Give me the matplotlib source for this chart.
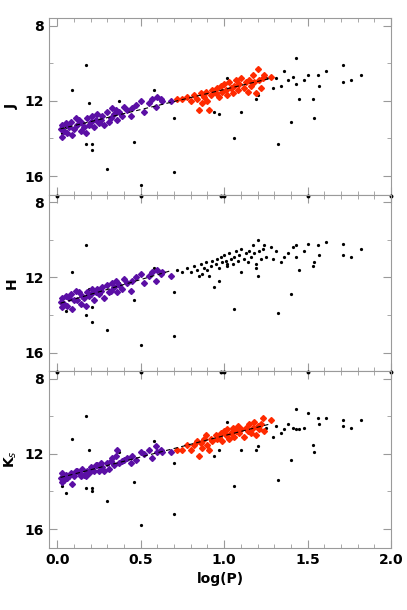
import numpy as np
import matplotlib
matplotlib.use("Agg")
import matplotlib.pyplot as plt

PURPLE = '#5b0fa5'
RED = '#ff2a00'
GREY = '#9a9a9a'

# short-period group (purple): logP, J, H, Ks
p_logp = [0.02, 0.03, 0.03, 0.04, 0.05, 0.06, 0.07, 0.08, 0.09, 0.10, 0.11, 0.12, 0.13, 0.14,
          0.15, 0.16, 0.17, 0.18, 0.19, 0.20, 0.21, 0.22, 0.23, 0.24, 0.25, 0.26, 0.27, 0.28,
          0.30, 0.31, 0.32, 0.33, 0.34, 0.35, 0.36, 0.37, 0.39, 0.40, 0.42, 0.44, 0.45, 0.47,
          0.50, 0.52, 0.55, 0.57, 0.59, 0.60, 0.62, 0.63, 0.68]
p_j = [13.5, 13.9, 13.3, 13.6, 13.2, 13.7, 13.4, 13.1, 13.8, 13.5, 12.9, 13.3, 13.0, 13.6,
       13.2, 13.4, 13.7, 12.9, 13.3, 13.1, 12.8, 13.4, 13.0, 12.7, 13.2, 13.0, 12.8, 13.3,
       12.6, 13.1, 12.9, 12.4, 12.7, 12.5, 13.0, 12.6, 12.8, 12.3, 12.5, 12.8, 12.4, 12.2,
       12.0, 12.6, 12.1, 11.9, 12.3, 11.8, 11.9, 12.0, 12.0]
p_h = [13.3, 13.6, 13.1, 13.4, 13.0, 13.5, 13.1, 12.9, 13.7, 13.2, 12.7, 13.2, 12.8, 13.4,
       13.0, 13.1, 13.5, 12.8, 13.0, 12.9, 12.6, 13.2, 12.8, 12.6, 12.9, 12.7, 12.5, 13.1,
       12.4, 12.8, 12.7, 12.3, 12.5, 12.2, 12.8, 12.4, 12.6, 12.1, 12.3, 12.7, 12.2, 12.0,
       11.8, 12.3, 11.9, 11.7, 12.2, 11.6, 11.8, 11.7, 11.9]
p_k = [13.3, 13.5, 13.0, 13.4, 13.1, 13.3, 13.2, 13.0, 13.6, 13.2, 12.9, 12.9, 13.0, 13.2,
       12.8, 13.1, 13.2, 12.9, 13.0, 12.7, 12.8, 12.9, 12.6, 12.6, 12.9, 12.5, 12.7, 12.9,
       12.5, 12.8, 12.4, 12.2, 12.6, 12.1, 11.8, 12.5, 12.4, 12.3, 12.2, 12.5, 12.1, 12.3,
       11.9, 12.0, 11.8, 12.2, 11.6, 11.9, 11.8, 11.9, 11.9]

# long-period group (red in J and Ks, black in H)
r_logp = [0.72, 0.75, 0.78, 0.80, 0.82, 0.84, 0.85, 0.86, 0.87, 0.88, 0.89, 0.90, 0.91, 0.92,
          0.93, 0.95, 0.96, 0.97, 0.98, 0.99, 1.00, 1.01, 1.02, 1.03, 1.04, 1.05, 1.06, 1.07,
          1.08, 1.09, 1.10, 1.12, 1.13, 1.14, 1.15, 1.16, 1.17, 1.18, 1.19, 1.20, 1.21, 1.22,
          1.23, 1.24, 1.28]
r_j = [11.9, 11.9, 11.8, 12.0, 11.7, 11.9, 12.5, 11.6, 12.1, 11.8, 11.5, 12.0, 12.5, 11.7,
       11.4, 11.6, 11.3, 11.8, 11.2, 11.5, 11.1, 11.4, 11.7, 11.0, 11.3, 11.6, 11.2, 10.9,
       11.4, 11.1, 10.8, 11.3, 11.0, 11.5, 10.9, 11.2, 10.6, 11.0, 11.6, 10.3, 10.9, 11.3,
       10.8, 10.6, 10.7]
r_h = [11.6, 11.7, 11.5, 11.7, 11.4, 11.6, 11.9, 11.3, 11.8, 11.5, 11.2, 11.6, 11.9, 11.4,
       11.1, 11.3, 11.0, 11.5, 10.9, 11.2, 10.8, 11.1, 11.4, 10.7, 11.0, 11.3, 10.9, 10.6,
       11.1, 10.8, 10.5, 11.0, 10.7, 11.2, 10.6, 10.9, 10.3, 10.7, 11.3, 10.0, 10.6, 11.0,
       10.5, 10.3, 10.4]
r_k = [11.8, 11.8, 11.5, 11.8, 11.5, 11.3, 12.1, 11.4, 11.7, 11.2, 11.0, 11.5, 11.8, 11.2,
       11.3, 11.0, 11.2, 11.1, 10.9, 11.3, 10.8, 11.0, 10.7, 11.2, 10.9, 10.6, 11.1, 10.8,
       10.5, 10.9, 10.7, 11.1, 10.6, 10.8, 10.4, 10.9, 10.6, 10.3, 11.0, 10.5, 10.7, 10.4,
       10.1, 10.8, 10.2]

# other stars (small black dots in all panels)
o_logp = [0.03, 0.05, 0.09, 0.17, 0.17, 0.19, 0.21, 0.21, 0.30, 0.37, 0.46, 0.50, 0.58, 0.70,
          0.70, 0.94, 0.97, 1.02, 1.06, 1.10, 1.19, 1.20, 1.25, 1.29, 1.31, 1.32, 1.34, 1.36,
          1.38, 1.40, 1.41, 1.43, 1.43, 1.45, 1.48, 1.50, 1.53, 1.54, 1.56, 1.57, 1.61, 1.71,
          1.71, 1.76, 1.82]
o_j = [13.7, 13.4, 11.4, 10.1, 14.3, 12.1, 14.6, 14.3, 15.6, 12.0, 14.2, 16.5, 11.4, 15.8,
       12.9, 12.6, 12.7, 10.8, 14.0, 12.6, 11.9, 11.7, 10.8, 11.3, 10.8, 14.3, 11.2, 10.4,
       10.9, 13.1, 10.7, 9.7, 11.1, 11.9, 10.9, 10.6, 11.9, 12.9, 10.6, 11.2, 10.4, 10.1,
       11.0, 10.9, 10.6]
o_h = [13.4, 13.8, 11.7, 10.3, 14.0, 12.6, 14.4, 13.6, 14.8, 12.3, 13.2, 15.6, 11.5, 15.1,
       12.8, 12.5, 12.2, 11.3, 13.7, 11.7, 11.5, 11.9, 10.9, 11.0, 10.6, 13.9, 11.2, 10.9,
       10.7, 12.9, 10.4, 10.3, 10.9, 11.6, 10.6, 10.2, 11.4, 11.2, 10.3, 10.8, 10.1, 10.2,
       10.8, 10.9, 10.5]
o_k = [13.7, 14.1, 11.2, 10.0, 13.8, 11.8, 13.8, 14.0, 14.5, 11.9, 13.5, 15.8, 11.3, 15.2,
       12.5, 12.1, 11.8, 10.3, 13.7, 11.8, 11.8, 11.6, 10.6, 11.1, 10.5, 13.4, 10.9, 10.7,
       10.4, 12.3, 10.6, 9.6, 10.7, 10.7, 10.6, 9.8, 11.5, 11.9, 10.1, 10.4, 10.1, 10.2,
       10.5, 10.6, 10.2]

# stars drawn on the top border of the lower panels
edge_logp = [0.0, 0.5, 0.98, 1.0, 1.5, 2.0]

fig = plt.figure(figsize=(4.07, 6.10), dpi=100)
gs = fig.add_gridspec(3, 1, left=0.12, right=0.961, top=0.97, bottom=0.102, hspace=0)
axes = [fig.add_subplot(gs[i]) for i in range(3)]

panels = [
    ("J", p_j, r_j, o_j, True, True),
    ("H", p_h, r_h, o_h, False, False),
    ("K$_s$", p_k, r_k, o_k, True, True),
]

for i, (ax, (lab, pm, rm, om, red, fit_red)) in enumerate(zip(axes, panels)):
    ax.plot(o_logp, om, 'o', color='k', ms=1.3, ls='none')
    ax.plot(p_logp, pm, 'D', color=PURPLE, ms=3.0, mec=PURPLE, ls='none')
    if red:
        ax.plot(r_logp, rm, 'D', color=RED, ms=3.0, mec=RED, ls='none')
    else:
        ax.plot(r_logp, rm, 'o', color='k', ms=1.3, ls='none')
    if fit_red:
        xs = np.array(p_logp + r_logp)
        ys = np.array(pm + rm)
    else:
        xs = np.array(p_logp)
        ys = np.array(pm)
    c = np.polyfit(xs, ys, 1)
    xx = np.array([xs.min(), xs.max()])
    ax.plot(xx, np.polyval(c, xx), '--', color='k', lw=0.8, dashes=(4, 3))
    if i > 0:
        ax.plot(edge_logp, [7.65] * len(edge_logp), 'o', color='k', ms=1.8, clip_on=False)

    ax.set_xlim(-0.05, 2.0)
    ax.set_ylim(17.0, 7.6)
    ax.set_yticks([8, 12, 16])
    ax.set_yticks([10, 14], minor=True)
    ax.set_xticks([0.0, 0.5, 1.0, 1.5, 2.0])
    ax.set_xticks(np.arange(0, 2.0, 0.1), minor=True)
    ax.tick_params(which='both', direction='in', top=True, right=True, color=GREY,
                   labelsize=10)
    ax.tick_params(which='major', length=6)
    ax.tick_params(which='minor', length=3)
    for s in ax.spines.values():
        s.set_color(GREY)
    ax.set_ylabel(lab, fontsize=10, fontweight='bold')
    for t in ax.get_yticklabels() + ax.get_xticklabels():
        t.set_fontweight('bold')
    if i < 2:
        ax.tick_params(labelbottom=False)

axes[2].set_xlabel('log(P)', fontsize=10, fontweight='bold')

fig.savefig('out.png', dpi=100)
